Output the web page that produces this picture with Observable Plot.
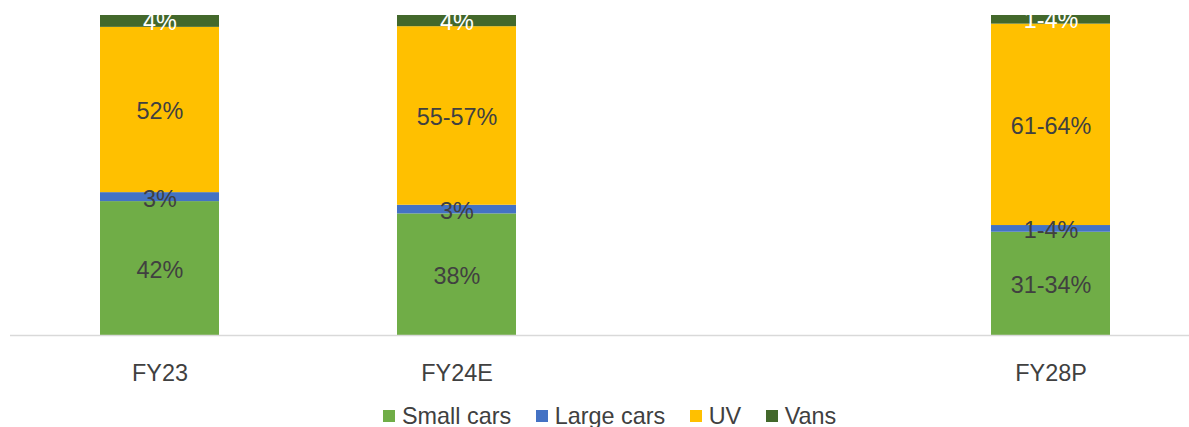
<!DOCTYPE html>
<html>
<head>
<meta charset="utf-8">
<script src="https://cdn.jsdelivr.net/npm/d3@7"></script>
<script src="https://cdn.jsdelivr.net/npm/@observablehq/plot@0.6"></script>
<style>
  html, body { margin: 0; padding: 0; background: #fff; overflow: hidden; }
  #chart svg { display: block; }
  .legend { display: flex; align-items: center; margin-top: 7.6px; padding-left: 383px;
    font-family: "Liberation Sans", Arial, sans-serif; font-size: 23.4px; color: #404040; line-height: normal; white-space: nowrap; }
  .legend .item { display: flex; align-items: center; margin-right: 24.5px; }
  .legend .sw { width: 12.3px; height: 12.3px; margin-right: 6.7px; }
</style>
</head>
<body>
<div id="chart"></div>
<script>
const categories = ["FY23", "FY24E", " ", "FY28P"];
const series = ["Small cars", "Large cars", "UV", "Vans"];
const colors = ["#70AD47", "#4472C4", "#FFC000", "#43682B"];

const smallCars = [41.8, 38, null, 32.3];
const largeCars = [2.8, 2.7, null, 2.1];
const uv = [51.6, 55.8, null, 63];
const vans = [3.7, 3.5, null, 2.7];

const smallLabels = ["42%", "38%", "", "31-34%"];
const largeLabels = ["3%", "3%", "", "1-4%"];
const uvLabels = ["52%", "55-57%", "", "61-64%"];
const vansLabels = ["4%", "4%", "", "1-4%"];

const valueSets = [smallCars, largeCars, uv, vans];
const labelSets = [smallLabels, largeLabels, uvLabels, vansLabels];

const data = [];
categories.forEach((cat, i) => {
  series.forEach((s, j) => {
    const v = valueSets[j][i];
    if (v != null) data.push({cat, series: s, value: v, label: labelSets[j][i]});
  });
});

const stackOpts = {x: "cat", y: "value", z: "series", order: series, offset: "normalize"};

const chart = Plot.plot({
  width: 1189,
  height: 395,
  marginTop: 15,
  marginBottom: 60,
  marginLeft: 10,
  marginRight: 0,
  style: {fontFamily: "'Liberation Sans', Arial, sans-serif", fontSize: "23.4px", color: "#404040", background: "#fff"},
  x: {type: "band", domain: categories, range: [9.5, 1199.5], paddingInner: 0.6, paddingOuter: 0.3, label: null},
  y: {axis: null},
  color: {domain: series, range: colors},
  marks: [
    Plot.barY(data, Plot.stackY({...stackOpts, fill: "series"})),
    Plot.ruleY([0], {stroke: "#d9d9d9", strokeWidth: 1.3}),
    Plot.text(data, Plot.stackY({...stackOpts, text: d => d.series === "Vans" ? null : d.label, fill: "#404040", fontSize: 23.4, dy: 2})),
    Plot.text(data, Plot.stackY({...stackOpts, text: d => d.series === "Vans" ? d.label : null, fill: "#ffffff", fontSize: 23.4, dy: 1})),
    Plot.axisX({tickSize: 0, tickPadding: 29, fontSize: 23.4, fill: "#404040", label: null})
  ]
});
document.getElementById("chart").appendChild(chart);

const legend = document.createElement("div");
legend.className = "legend";
series.forEach((s, j) => {
  const item = document.createElement("div");
  item.className = "item";
  const sw = document.createElement("div");
  sw.className = "sw";
  sw.style.background = colors[j];
  const t = document.createElement("span");
  t.textContent = s;
  item.appendChild(sw);
  item.appendChild(t);
  legend.appendChild(item);
});
document.body.appendChild(legend);
</script>
</body>
</html>
